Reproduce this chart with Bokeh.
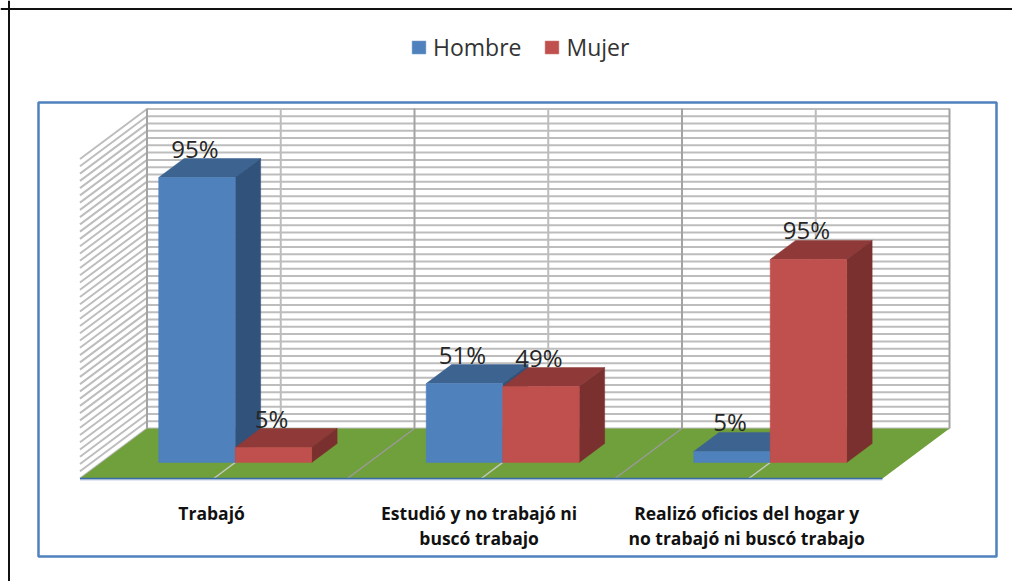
from bokeh.plotting import figure
from bokeh.embed import file_html
from bokeh.resources import INLINE
from bokeh.models import Range1d, BoxAnnotation, Span, Legend, LegendItem
from bokeh.core.properties import value

# ---- data ----
categories = [["Trabajó"], ["Estudió y no trabajó ni", "buscó trabajo"],
              ["Realizó oficios del hogar y", "no trabajó ni buscó trabajo"]]
series_names = ["Hombre", "Mujer"]
# bar heights as drawn (axis units; the chart's axis is hidden)
hombre_heights = [95, 26.3, 3.7]
mujer_heights = [5, 25.3, 67.7]
# printed labels
hombre_labels = ["95%", "51%", "5%"]
mujer_labels = ["5%", "49%", "95%"]
axis_max = 106.7
grid_step = 2.42

# ---- projection parameters ----
W, H = 1012, 581
PX_X = 267.5   # pixels per category
PX_Y = 3.0     # pixels per axis unit
DX, DY = 67 / PX_X, 50 / PX_Y     # floor depth, in data units
BAR_Z0, BAR_Z1 = 0.32, 0.70       # bar depth span (fraction of floor)
BAR_W = 76.5 / PX_X
ORIGIN_X, ORIGIN_Y = 79.5, 478   # canvas position of the front-left floor corner

BLUE, BLUE_TOP, BLUE_SIDE = "#4f81bd", "#3d6390", "#30527b"
RED, RED_TOP, RED_SIDE = "#c0504d", "#8f3a38", "#7a302e"
GREEN = "#70a03b"

p = figure(width=W, height=H, output_backend="svg", toolbar_location=None,
           x_range=Range1d(-ORIGIN_X / PX_X, (W - ORIGIN_X) / PX_X),
           y_range=Range1d(-(H - ORIGIN_Y) / PX_Y, ORIGIN_Y / PX_Y),
           x_axis_type=None, y_axis_type=None, min_border=0)
p.grid.visible = False
p.outline_line_color = None
p.background_fill_color = "white"
p.border_fill_color = "white"


def pr(x, z, y):
    return x + z * DX, y + z * DY


n = len(categories)
# back wall and side wall
k = 0
while k * grid_step <= axis_max + 1e-6:
    y = k * grid_step
    x0, y0 = pr(0, 1, y)
    x1, y1 = pr(n, 1, y)
    p.line([x0, x1], [y0, y1], line_color="#bdbdbd", line_width=2)
    x2, y2 = pr(0, 0, y)
    p.line([x2, x0], [y2, y0], line_color="#bdbdbd", line_width=2)
    k += 1
for i in range(2 * n + 1):
    xv, yb = pr(i / 2, 1, 0)
    _, yt = pr(i / 2, 1, axis_max)
    p.line([xv, xv], [yb, yt], line_color="#a3a3a3" if i % 2 == 0 else "#bcbcbc", line_width=2)

# floor
fx, fy = zip(*[pr(0, 0, 0), pr(n, 0, 0), pr(n, 1, 0), pr(0, 1, 0)])
p.patch(list(fx), list(fy), fill_color=GREEN, line_color=None)
for i in range(1, 2 * n):
    a = pr(i / 2, 0, 0)
    b = pr(i / 2, 1, 0)
    p.line([a[0], b[0]], [a[1], b[1]], line_color="#9a9a9a" if i % 2 == 0 else "#c4c8bc", line_width=1.5)
a = pr(0, 0, 0)
b = pr(n, 0, 0)
p.line([a[0], b[0]], [a[1] - 0.35, b[1] - 0.35], line_color="#c5d4e6", line_width=2)
p.line([a[0], b[0]], [a[1], b[1]], line_color="#3a6ba5", line_width=1.5)


def bar(xl, xr, h, front, top, side):
    def f(x, z, y):
        return pr(x, z, y)
    faces = [
        ([f(xl, BAR_Z0, h), f(xr, BAR_Z0, h), f(xr, BAR_Z1, h), f(xl, BAR_Z1, h)], top),
        ([f(xr, BAR_Z0, 0), f(xr, BAR_Z1, 0), f(xr, BAR_Z1, h), f(xr, BAR_Z0, h)], side),
        ([f(xl, BAR_Z0, 0), f(xr, BAR_Z0, 0), f(xr, BAR_Z0, h), f(xl, BAR_Z0, h)], front),
    ]
    r = None
    for pts, c in faces:
        xs, ys = zip(*pts)
        r = p.patch(list(xs), list(ys), fill_color=c, line_color=c, line_width=0.5)
    return r


r_h, r_m = None, None
label_rows = []
for i in range(n):
    c = i + 0.5
    r_h = bar(c - BAR_W, c, hombre_heights[i], BLUE, BLUE_TOP, BLUE_SIDE)
    r_m = bar(c, c + BAR_W, mujer_heights[i], RED, RED_TOP, RED_SIDE)
    label_rows.append(pr(c - BAR_W / 2, BAR_Z1, hombre_heights[i]) + (hombre_labels[i],))
    label_rows.append(pr(c + BAR_W / 2, BAR_Z1, mujer_heights[i]) + (mujer_labels[i],))

# data labels: centred over the front face, sitting on the back edge of the top
shift = (BAR_Z1 - BAR_Z0) * DX + 2 / PX_X
p.text([r[0] - shift for r in label_rows], [r[1] + 3.5 for r in label_rows],
       text=[r[2] for r in label_rows], text_align="center", text_baseline="alphabetic",
       text_font=value("Open Sans"), text_font_size="24px", text_color="#262626")

# category labels
for i, lines in enumerate(categories):
    for j, t in enumerate(lines):
        p.text([i + 0.5 - 0.008], [-11.6 - j * 8.33], text=[t], text_align="center",
               text_baseline="alphabetic", text_font=value("Open Sans"), text_font_size="17.5px",
               text_font_style="bold", text_color="#111111")

# legend
legend = Legend(items=[LegendItem(label=series_names[0], renderers=[r_h]),
                       LegendItem(label=series_names[1], renderers=[r_m])],
                orientation="horizontal", location=(410, H - 63),
                label_text_font="Open Sans", label_text_font_size="23px", label_text_color="#333333",
                glyph_width=17, glyph_height=16, spacing=22, label_standoff=6,
                background_fill_alpha=0, border_line_color=None, margin=0, padding=4)
p.add_layout(legend, "center")

# frames
p.add_layout(BoxAnnotation(left=38, right=996, top=H - 102, bottom=H - 556,
                           left_units="screen", right_units="screen", top_units="screen", bottom_units="screen",
                           fill_alpha=0, line_color="#4f81bd", line_alpha=1, line_width=2.5, level="underlay"))
p.add_layout(Span(location=8.5, dimension="height", location_units="screen", line_color="#111111", line_width=2))
p.add_layout(Span(location=H - 8.5, dimension="width", location_units="screen", line_color="#111111", line_width=2))

open("out.html", "w").write(file_html(p, INLINE))
